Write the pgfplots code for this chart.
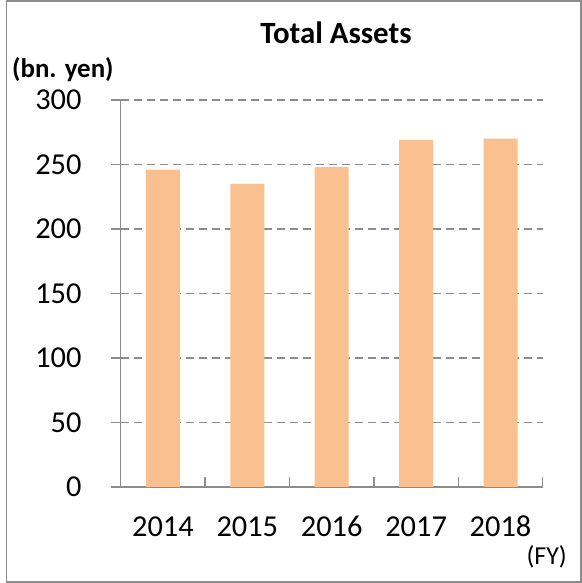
\documentclass[border=0pt]{standalone}
\usepackage{pgfplots}
\pgfplotsset{compat=1.18}
\usepackage{fontspec}
\setmainfont{Carlito}
\definecolor{barfill}{HTML}{FAC090}
\definecolor{axgray}{HTML}{8C8C8C}

\begin{document}
\begin{tikzpicture}[x=1bp,y=1bp]
\useasboundingbox (0,0) rectangle (582,583);
\draw[axgray, line width=1.5bp] (6.5,1) rectangle (581,582);
\node[font=\bfseries\fontsize{31}{36}\selectfont] at (336,550) {Total Assets};
\node[font=\bfseries\fontsize{27}{32}\selectfont, anchor=west, inner sep=0pt] at (12,513) {(bn. yen)};
\node[font=\fontsize{26}{31}\selectfont, anchor=east, inner sep=0pt] at (567,26) {(FY)};
\begin{axis}[
    at={(120.7bp,96bp)}, anchor=south west,
    scale only axis,
    width=422bp, height=387bp,
    xmin=0.5, xmax=5.5,
    ymin=0, ymax=300,
    ytick={0,50,...,300},
    xtick={0.5,1.5,...,5.5},
    x tick label as interval,
    xticklabels={2014,2015,2016,2017,2018},
    axis x line*=bottom,
    axis y line*=left,
    axis line style={axgray, line width=1.5bp},
    tick style={axgray, line width=1.5bp},
    tick align=outside,
    x tick style={yshift=10bp},
    major tick length=10bp,
    ymajorgrids,
    grid style={axgray, line width=1.5bp, dash pattern=on 8bp off 5bp},
    /pgf/number format/assume math mode=true,
    tick label style={font=\fontsize{30.5}{36}\selectfont, inner sep=0pt},
    yticklabel style={anchor=east, xshift=-29bp},
    xticklabel style={anchor=north, text height=19.5bp, yshift=-20bp},
    ybar,
    bar width=34bp,
]
\addplot[fill=barfill, draw=none] coordinates {
(1,246)
(2,235)
(3,248)
(4,269)
(5,270)
};
\end{axis}
\end{tikzpicture}
\end{document}
